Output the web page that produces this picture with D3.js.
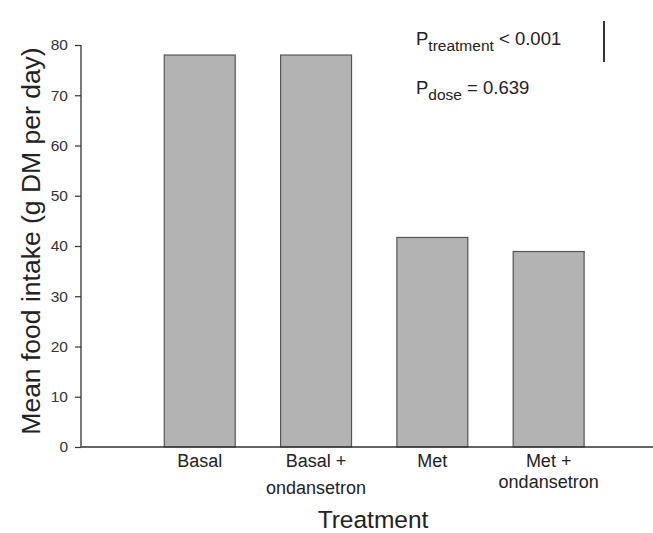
<!DOCTYPE html>
<html>
<head>
<meta charset="utf-8">
<script src="https://cdn.jsdelivr.net/npm/d3@7"></script>
<style>
  html, body { margin: 0; padding: 0; background: #fff; }
  svg { display: block; font-family: "Liberation Sans", Arial, sans-serif; }
</style>
</head>
<body>
<svg id="chart" width="653" height="533"></svg>
<script>
(function () {
  "use strict";

  // data
  const categories = ["Basal", "Basal + ondansetron", "Met", "Met + ondansetron"];
  const intake = [78.0, 78.0, 41.7, 38.9];
  const labelLines = [["Basal"], ["Basal +", "ondansetron"], ["Met"], ["Met +", "ondansetron"]];
  const yTicks = [0, 10, 20, 30, 40, 50, 60, 70, 80];

  const svg = d3.select("#chart");
  const axisX0 = 81, axisX1 = 653;

  const y = d3.scaleLinear().domain([0, 80]).range([447, 45]);
  const x = d3.scaleBand()
    .domain(categories)
    .range([141.6, 606.8])
    .paddingInner(0.39)
    .paddingOuter(0.195);

  // bars
  svg.append("g")
    .selectAll("rect")
    .data(categories.map((c, i) => ({ c, v: intake[i] })))
    .join("rect")
    .attr("x", (d) => x(d.c))
    .attr("y", (d) => y(d.v))
    .attr("width", x.bandwidth())
    .attr("height", (d) => y(0) - y(d.v))
    .attr("fill", "#b3b3b3")
    .attr("stroke", "#555")
    .attr("stroke-width", 1.2);

  // y axis
  const yAxis = svg.append("g")
    .attr("transform", `translate(${axisX0},0)`)
    .call(d3.axisLeft(y).tickValues(yTicks).tickSize(6).tickPadding(7));
  yAxis.select(".domain").attr("stroke", "#333").attr("stroke-width", 1.3).attr("d", `M0,${y(80)}V${y(0)}`);
  yAxis.selectAll(".tick line").attr("stroke", "#333").attr("stroke-width", 1.2);
  yAxis.selectAll(".tick text")
    .attr("fill", "#333")
    .style("font-size", "15.5px")
    .style("font-family", "Liberation Sans, Arial, sans-serif");

  // x baseline
  svg.append("line")
    .attr("x1", axisX0).attr("x2", axisX1)
    .attr("y1", y(0)).attr("y2", y(0))
    .attr("stroke", "#333").attr("stroke-width", 1.5);

  // category labels
  const lineGap = [0, 27, 0, 20.5];
  svg.append("g")
    .selectAll("text")
    .data(categories)
    .join("text")
    .attr("text-anchor", "middle")
    .attr("fill", "#222")
    .style("font-size", "18px")
    .each(function (c, i) {
      const t = d3.select(this);
      labelLines[i].forEach((ln, k) => {
        t.append("tspan")
          .attr("x", x(c) + x.bandwidth() / 2)
          .attr("y", 467 + k * lineGap[i])
          .text(ln);
      });
    });

  // axis titles
  svg.append("text")
    .attr("x", 373).attr("y", 528)
    .attr("text-anchor", "middle")
    .attr("fill", "#222")
    .style("font-size", "24.5px")
    .text("Treatment");

  svg.append("text")
    .attr("transform", "translate(40,241) rotate(-90)")
    .attr("text-anchor", "middle")
    .attr("fill", "#222")
    .style("font-size", "26.5px")
    .text("Mean food intake (g DM per day)");

  // p-value annotations
  const ann = svg.append("g").attr("fill", "#222");
  const p1 = ann.append("text").attr("x", 416).attr("y", 45).style("font-size", "18.5px");
  p1.append("tspan").text("P");
  p1.append("tspan").attr("dy", 6).style("font-size", "15.5px").text("treatment");
  p1.append("tspan").attr("dy", -6).style("font-size", "18.5px").text(" < 0.001");

  const p2 = ann.append("text").attr("x", 416).attr("y", 94).style("font-size", "18.5px");
  p2.append("tspan").text("P");
  p2.append("tspan").attr("dy", 6).style("font-size", "15.5px").text("dose");
  p2.append("tspan").attr("dy", -6).style("font-size", "18.5px").text(" = 0.639");

  svg.append("line")
    .attr("x1", 604).attr("x2", 604)
    .attr("y1", 21).attr("y2", 62)
    .attr("stroke", "#333").attr("stroke-width", 2);
})();
</script>
</body>
</html>
